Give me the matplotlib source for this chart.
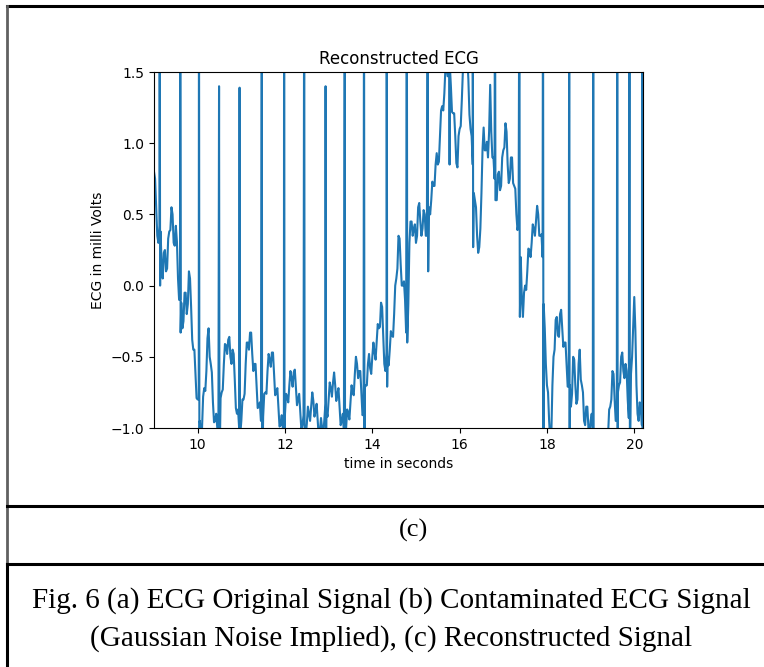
import numpy as np
import matplotlib
matplotlib.use("Agg")
import matplotlib.pyplot as plt
from matplotlib.lines import Line2D

# baseline of the reconstructed ECG, read every 0.025 s from 9.00 s (one row = 0.5 s)
base_start = 9.0
base_step = 0.025
base_vals = [
    0.80, 0.75, 0.55, 0.35, 0.30, 0.42, 0.38, 0.14, 0.05, 0.23, 0.25, 0.10, 0.12, 0.33, 0.38, 0.39, 0.55, 0.50, 0.30, 0.28,
    0.42, 0.31, 0.05, -0.10, -0.10, -0.12, -0.30, -0.25, -0.05, -0.05, -0.20, -0.13, 0.10, 0.05, -0.15, -0.38, -0.45, -0.45, -0.62, -0.79,
    -0.80, -0.80, -0.95, -1.05, -1.00, -0.78, -0.72, -0.74, -0.60, -0.37, -0.30, -0.50, -0.55, -0.61, -0.82, -0.96, -0.95, -0.90, -1.00, -1.07,
    -0.98, -0.79, -0.75, -0.73, -0.55, -0.41, -0.42, -0.48, -0.38, -0.36, -0.50, -0.55, -0.45, -0.48, -0.66, -0.86, -0.90, -0.87, -1.00, -1.05,
    -0.95, -0.80, -0.80, -0.76, -0.55, -0.40, -0.40, -0.45, -0.33, -0.33, -0.48, -0.60, -0.55, -0.55, -0.70, -0.86, -0.85, -0.82, -0.95, -1.01,
    -0.92, -0.76, -0.75, -0.76, -0.60, -0.48, -0.52, -0.57, -0.47, -0.47, -0.62, -0.77, -0.75, -0.72, -0.85, -0.99, -0.98, -0.91, -1.00, -1.03,
    -0.90, -0.76, -0.78, -0.82, -0.70, -0.60, -0.65, -0.71, -0.61, -0.59, -0.72, -0.84, -0.80, -0.76, -0.88, -1.01, -0.98, -0.91, -1.00, -1.06,
    -0.97, -0.85, -0.90, -0.95, -0.85, -0.75, -0.81, -0.92, -0.88, -0.83, -0.95, -1.07, -1.02, -0.93, -1.00, -1.05, -0.95, -0.83, -0.88, -0.92,
    -0.80, -0.68, -0.72, -0.78, -0.68, -0.61, -0.70, -0.81, -0.76, -0.72, -0.85, -0.98, -0.95, -0.90, -1.02, -1.09, -1.00, -0.87, -0.90, -0.94,
    -0.82, -0.70, -0.75, -0.77, -0.62, -0.50, -0.55, -0.65, -0.60, -0.60, -0.75, -0.91, -0.90, -0.72, -0.70, -0.70, -0.55, -0.48, -0.58, -0.62,
    -0.50, -0.40, -0.47, -0.52, -0.40, -0.27, -0.30, -0.29, -0.12, -0.15, -0.35, -0.55, -0.60, -0.47, -0.50, -0.56, -0.45, -0.32, -0.35, -0.36,
    -0.20, 0.00, 0.05, 0.12, 0.35, 0.33, 0.15, 0.00, 0.00, 0.03, -0.10, -0.33, -0.40, -0.13, 0.30, 0.45, 0.45, 0.35, 0.40, 0.43,
    0.30, 0.35, 0.55, 0.58, 0.45, 0.35, 0.40, 0.53, 0.50, 0.35, 0.35, 0.53, 0.55, 0.50, 0.60, 0.73, 0.70, 0.70, 0.85, 0.93,
    0.85, 0.87, 1.05, 1.23, 1.26, 1.23, 1.35, 1.53, 1.55, 1.47, 1.55, 1.55, 1.40, 1.22, 1.21, 1.21, 1.05, 0.86, 0.83, 1.05,
    1.10, 1.12, 1.30, 1.51, 1.55, 1.50, 1.60, 1.61, 1.45, 1.20, 1.10, 1.05, 0.85, 0.65, 0.60, 0.55, 0.35, 0.23, 0.27, 0.40,
    0.65, 0.96, 1.11, 0.95, 0.95, 1.01, 0.90, 1.08, 1.41, 1.08, 0.90, 0.90, 0.75, 0.60, 0.60, 0.78, 0.80, 0.67, 0.70, 0.90,
    0.95, 0.97, 1.14, 1.08, 0.85, 0.72, 0.75, 0.90, 0.90, 0.72, 0.70, 0.68, 0.50, 0.39, 0.44, 0.40, 0.20, -0.09, -0.22, -0.05,
    0.00, -0.03, 0.10, 0.26, 0.25, 0.20, 0.30, 0.43, 0.40, 0.35, 0.46, 0.56, 0.50, 0.35, 0.35, 0.36, 0.20, -0.13, -0.30, -0.55,
    -0.70, -0.75, -0.95, -1.08, -1.05, -0.70, -0.50, -0.45, -0.24, -0.22, -0.35, -0.36, -0.20, -0.17, -0.30, -0.43, -0.40, -0.40, -0.55, -0.71,
    -0.70, -0.70, -0.85, -0.76, -0.50, -0.52, -0.70, -0.83, -0.80, -0.55, -0.45, -0.66, -0.70, -0.75, -0.95, -0.98, -0.85, -0.85, -1.00, -1.06,
    -0.95, -0.90, -1.00, -1.13, -1.10, -1.07, -1.20, -1.30, -1.25, -1.17, -1.25, -1.30, -1.20, -1.10, -1.15, -1.18, -1.05, -0.87, -0.85, -0.80,
    -0.60, -0.62, -0.80, -0.95, -0.95, -0.75, -0.70, -0.68, -0.50, -0.47, -0.60, -0.65, -0.55, -0.60, -0.80, -0.93, -0.90, -0.62, -0.50, -0.30,
    -0.08, -0.31, -0.70, -0.90, -0.95, -0.82, -0.85, -0.98, -0.95,
]

# R peaks (time, top value) and the S dip right after each one
beat_t = [9.13, 9.60, 10.03, 10.49, 10.96, 11.47, 11.98, 12.44, 12.93, 13.37,
          13.81, 14.33, 14.79, 15.27, 15.76, 16.30, 16.81, 17.37, 17.91, 18.51,
          19.06, 19.61, 19.89, 20.18]
beat_r = [2.5, 2.5, 2.5, 1.40, 1.39, 2.5, 2.5, 2.5, 1.40, 2.5,
          2.5, 2.5, 2.5, 2.5, 2.5, 2.5, 2.5, 2.5, 2.5, 2.5,
          2.5, 2.5, 2.5, 2.5]
beat_s = [0.0, -0.33, -1.3, -1.3, -1.3, -1.3, -1.3, -1.3, -1.3, -1.3,
          -1.2, -0.71, -0.40, 0.10, 0.85, 0.27, 0.60, -0.22, -1.2, -1.3,
          -1.3, -1.3, -1.3, -1.3]

base_t = base_start + base_step * np.arange(len(base_vals))
t = np.concatenate([base_t, np.array(beat_t), np.array(beat_t) + 0.010])
v = np.concatenate([np.array(base_vals), np.array(beat_r), np.array(beat_s)])
order = np.argsort(t, kind="stable")
t = t[order]
v = v[order]

fig = plt.figure(figsize=(7.64, 6.67), dpi=100)
ax = fig.add_axes([154 / 764, 1 - 428 / 667, 489 / 764, 356 / 667])
ax.plot(t, v, color="#1f77b4", lw=1.5)
ax.set_xlim(9.0, 20.2)
ax.set_ylim(-1.0, 1.5)
ax.set_xticks([10, 12, 14, 16, 18, 20])
ax.set_yticks([-1.0, -0.5, 0.0, 0.5, 1.0, 1.5])
ax.set_title("Reconstructed ECG", fontsize=12)
ax.set_xlabel("time in seconds", fontsize=10)
ax.set_ylabel("ECG in milli Volts", fontsize=10)

# table-like frame around the figure
W, H = 764, 667
def fline(x0, y0, x1, y1, color="black", lw=2.2):
    fig.add_artist(Line2D([x0 / W, x1 / W], [1 - y0 / H, 1 - y1 / H],
                          color=color, lw=lw, transform=fig.transFigure))

fline(7, 6, 764, 6)
fline(7, 6, 7, 564, color="#606060", lw=2)
fline(7, 564, 7, 667)
fline(7, 506, 764, 506)
fline(7, 564, 764, 564)

fig.text(413 / W, 1 - 530 / H, "(c)", ha="center", va="center",
         fontsize=19, family="Liberation Serif")
fig.text(391 / W, 1 - 601 / H,
         "Fig. 6 (a) ECG Original Signal (b) Contaminated ECG Signal",
         ha="center", va="center", fontsize=21, family="Liberation Serif")
fig.text(391 / W, 1 - 639 / H,
         "(Gaussian Noise Implied), (c) Reconstructed Signal",
         ha="center", va="center", fontsize=21, family="Liberation Serif")

fig.savefig("out.png", dpi=100)
